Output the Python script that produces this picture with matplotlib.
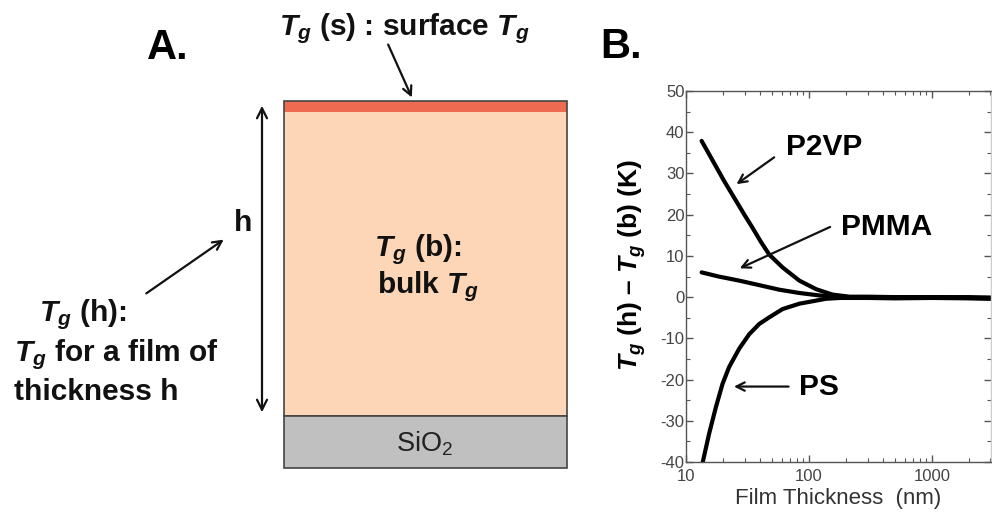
import numpy as np
import matplotlib
matplotlib.use("Agg")
import matplotlib.pyplot as plt
from matplotlib.patches import Rectangle
from matplotlib.ticker import NullFormatter, MultipleLocator, LogLocator

plt.rcParams['font.family'] = ['Liberation Sans', 'DejaVu Sans']
plt.rcParams['mathtext.fontset'] = 'custom'
plt.rcParams['mathtext.it'] = 'Liberation Sans:italic:bold'
plt.rcParams['mathtext.rm'] = 'Liberation Sans:bold'
plt.rcParams['mathtext.sf'] = 'Liberation Sans'
plt.rcParams['axes.unicode_minus'] = False

# panel B data (thickness in nm, Tg(h)-Tg(b) in K)
p2vp_h = [13.4, 20.4, 29.7, 34.8, 40.5, 47.6, 61.1, 83.6, 115, 156, 214, 300, 500, 1000, 2000, 3000]
p2vp_dtg = [37.9, 28.2, 20.1, 16.8, 13.5, 10.3, 7.2, 4.0, 1.9, 0.6, 0.1, 0.1, 0.0, 0.0, 0.0, -0.1]

pmma_h = [13.4, 18.4, 27.1, 39.5, 57.4, 83.6, 122, 180, 300, 500, 1000, 2000, 3000]
pmma_dtg = [6.0, 5.0, 4.0, 2.9, 1.8, 1.0, 0.4, 0.05, -0.1, -0.1, -0.1, -0.2, -0.3]

ps_h = [13.6, 15.4, 17.5, 19.8, 22.4, 27.1, 32.7, 39.5, 47.6, 61.1, 83.6, 138, 180, 300, 500, 1000, 2000, 3000]
ps_dtg = [-40.4, -33.2, -26.7, -21.1, -17.0, -12.5, -9.0, -6.5, -4.9, -2.9, -1.6, -0.4, -0.2, -0.2, -0.3, -0.2, -0.3, -0.4]

x_ticks = [10, 100, 1000]
x_tick_labels = ['10', '100', '1000']
y_ticks = [-40, -30, -20, -10, 0, 10, 20, 30, 40, 50]

# panel A geometry (figure pixels, origin top-left)
film_left, film_right = 284, 567
film_top, surf_bottom, film_bottom, sub_bottom = 101, 112, 416, 468

fig = plt.figure(figsize=(9.92, 5.14), dpi=100)

# ---- panel A: schematic
sk = fig.add_axes([0, 0, 1, 1])
sk.set_xlim(0, 992)
sk.set_ylim(514, 0)
sk.axis('off')

w = film_right - film_left
sk.add_patch(Rectangle((film_left, surf_bottom), w, film_bottom - surf_bottom,
                       facecolor='#fcd6b6', edgecolor='none'))
sk.add_patch(Rectangle((film_left, film_top), w, surf_bottom - film_top,
                       facecolor='#ee6a50', edgecolor='none'))
sk.add_patch(Rectangle((film_left, film_top), w, film_bottom - film_top,
                       facecolor='none', edgecolor='#444444', lw=1.2))
sk.add_patch(Rectangle((film_left, film_bottom), w, sub_bottom - film_bottom,
                       facecolor='#c0c0c0', edgecolor='#444444', lw=1.2))

bold = dict(fontsize=21.5, fontweight='bold', color='#111111')
sk.text(147, 59, 'A.', fontsize=30, fontweight='bold', va='baseline')
sk.text(404, 35, r'$T_g$ (s) : surface $T_g$', ha='center', va='baseline', **bold)
sk.text(418, 256, r'$T_g$ (b):', ha='center', va='baseline', **bold)
sk.text(428, 293, r'bulk $T_g$', ha='center', va='baseline', **bold)
sk.text(243, 231, 'h', ha='center', va='baseline', **bold)
sk.text(83, 321, r'$T_g$ (h):', ha='center', va='baseline', **bold)
sk.text(116, 361, r'$T_g$ for a film of', ha='center', va='baseline', **bold)
sk.text(96, 400, 'thickness h', ha='center', va='baseline', **bold)
sk.text(425, 452, r'SiO$_\mathsf{2}$', ha='center', va='baseline', fontsize=19.5, color='#222222')

arr = dict(arrowstyle='->', lw=1.6, color='#111111', mutation_scale=16)
sk.annotate('', xy=(413, 100), xytext=(387, 42), arrowprops=arr)
sk.annotate('', xy=(226, 238), xytext=(144, 295), arrowprops=arr)
sk.annotate('', xy=(262, 103), xytext=(262, 415),
            arrowprops=dict(arrowstyle='<->', lw=1.6, color='#111111', mutation_scale=18))

# ---- panel B: Tg shift vs thickness
ax = fig.add_axes([686 / 992, 1 - 462 / 514, (991 - 686) / 992, (462 - 91) / 514])
ax.plot(p2vp_h, p2vp_dtg, color='black', lw=3, solid_capstyle='round')
ax.plot(pmma_h, pmma_dtg, color='black', lw=3, solid_capstyle='round')
ax.plot(ps_h, ps_dtg, color='black', lw=3, solid_capstyle='round')
ax.set_xscale('log')
ax.set_xlim(10, 10 ** (1 + (991 - 687) / 122.5))
ax.set_ylim(-40, 50)
ax.set_xticks(x_ticks)
ax.set_xticklabels(x_tick_labels)
ax.xaxis.set_minor_locator(LogLocator(base=10, subs=np.arange(2, 10)))
ax.xaxis.set_minor_formatter(NullFormatter())
ax.set_yticks(y_ticks)
ax.yaxis.set_minor_locator(MultipleLocator(5))
ax.tick_params(which='both', direction='in', top=True, right=True, colors='#555555',
               labelsize=12, labelcolor='#444444')
ax.tick_params(which='major', length=5, width=1)
ax.tick_params(which='minor', length=3, width=0.8)
ax.tick_params(axis='x', pad=5)
ax.tick_params(axis='y', pad=1)
for s in ax.spines.values():
    s.set_color('#555555')
    s.set_linewidth(1)
ax.spines['right'].set_color('#cccccc')

ax.set_xlabel('Film Thickness  (nm)', fontsize=16, color='#333333', labelpad=3)
fig.text(632 / 992, 1 - 265 / 514, r'$T_g$ (h) – $T_g$ (b) (K)', rotation=90,
         ha='center', va='center', fontsize=19, fontweight='bold')
fig.text(600 / 992, 1 - 58 / 514, 'B.', fontsize=30, fontweight='bold', va='baseline')

lab = dict(fontsize=21.5, fontweight='bold', va='center', ha='left')
ax.text(65.5, 36.4, 'P2VP', **lab)
ax.text(184, 17.1, 'PMMA', **lab)
ax.text(83.6, -21.9, 'PS', **lab)
arr2 = dict(arrowstyle='->', lw=1.6, color='#111111', mutation_scale=15)
ax.annotate('', xy=(24.7, 27.0), xytext=(54.4, 34.3), arrowprops=arr2)
ax.annotate('', xy=(26.1, 6.7), xytext=(156, 17.3), arrowprops=arr2)
ax.annotate('', xy=(23.3, -21.7), xytext=(72, -21.7), arrowprops=arr2)

fig.savefig('out.png', dpi=100, facecolor='white')
